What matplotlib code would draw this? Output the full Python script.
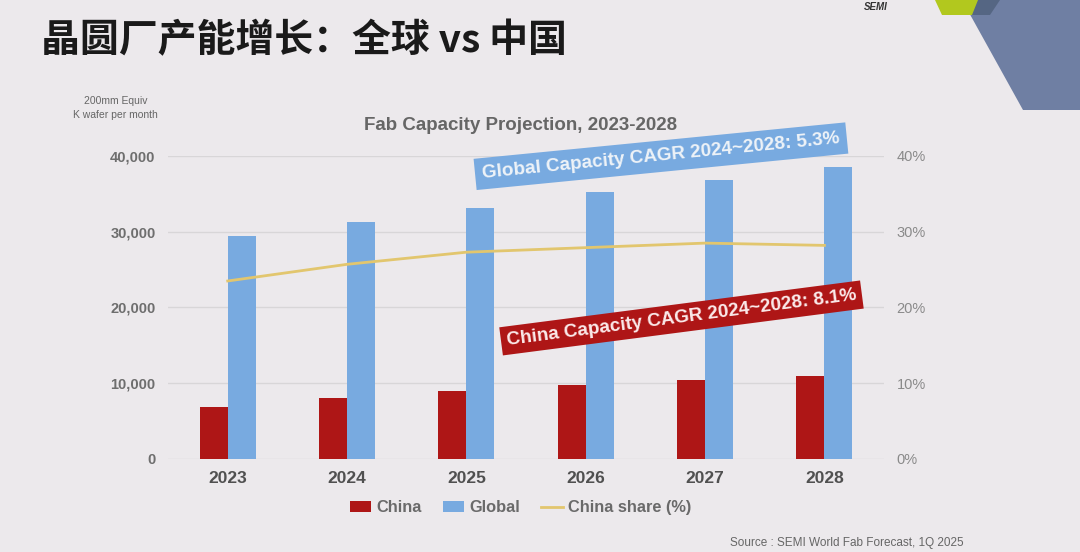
import matplotlib.pyplot as plt
from matplotlib.patches import Polygon
from matplotlib.lines import Line2D
from matplotlib.patches import Patch
from matplotlib.ticker import FuncFormatter
import numpy as np

# data
years = ["2023", "2024", "2025", "2026", "2027", "2028"]
china = [6900, 8000, 9000, 9800, 10400, 10900]
global_cap = [29500, 31300, 33200, 35300, 36800, 38500]
china_share = [23.5, 25.7, 27.3, 27.9, 28.5, 28.2]

BG = "#ECE9EC"
RED = "#AE1616"
BLUE = "#78AAE0"
GOLD = "#E2C66E"
LATIN = ["Liberation Sans", "DejaVu Sans"]

fig = plt.figure(figsize=(10.8, 5.52), dpi=100, facecolor=BG)

# slide title
fig.text(0.038, 0.927, "晶圆厂产能增长：全球 vs 中国", fontsize=28, fontweight="bold",
         color="#1a1a1a", va="center", ha="left",
         family=["Noto Sans CJK SC", "DejaVu Sans"])

# corner decoration in top right
W, H = 1080, 552
def px(pts):
    return [(x / W, 1 - y / H) for x, y in pts]
fig.patches.append(Polygon(px([(962, 0), (1080, 0), (1080, 110), (1023, 110)]),
                           closed=True, fc="#6F7FA3", ec="none", transform=fig.transFigure))
fig.patches.append(Polygon(px([(975, 0), (1000, 0), (990, 15), (970, 15)]),
                           closed=True, fc="#556683", ec="none", transform=fig.transFigure))
fig.patches.append(Polygon(px([(935, 0), (978, 0), (972, 15), (942, 15)]),
                           closed=True, fc="#B2C81E", ec="none", transform=fig.transFigure))
fig.text(0.800, 0.997, "SEMI", fontsize=7, fontweight="bold", color="#333333",
         va="top", ha="left", family=LATIN, style="italic")

ax = fig.add_axes([0.1556, 0.1685, 0.663, 0.5489])
ax.set_facecolor(BG)
x = np.arange(len(years))
w = 0.235
ax.bar(x - w / 2, china, w, color=RED, zorder=3)
ax.bar(x + w / 2, global_cap, w, color=BLUE, zorder=3)
ax.set_xlim(-0.5, len(years) - 0.5)
ax.set_ylim(0, 40000)
ax.set_yticks(range(0, 40001, 10000))
ax.yaxis.set_major_formatter(FuncFormatter(lambda v, p: f"{int(v):,}"))
ax.set_xticks(x)
ax.set_xticklabels(years)
ax.grid(axis="y", color="#D8D6D8", lw=1, zorder=0)
for s in ax.spines.values():
    s.set_visible(False)
ax.tick_params(axis="y", length=0, pad=9)
ax.tick_params(axis="x", length=0, pad=9)
for t in ax.get_yticklabels():
    t.set_fontsize(10.5)
    t.set_fontweight("bold")
    t.set_color("#6e6e6e")
    t.set_family(LATIN)
for t in ax.get_xticklabels():
    t.set_fontsize(12.5)
    t.set_fontweight("bold")
    t.set_color("#505050")
    t.set_family(LATIN)

ax2 = ax.twinx()
ax2.plot(x, china_share, color=GOLD, lw=2, zorder=4)
ax2.set_ylim(0, 40)
ax2.set_yticks(range(0, 41, 10))
ax2.yaxis.set_major_formatter(FuncFormatter(lambda v, p: f"{int(v)}%"))
for s in ax2.spines.values():
    s.set_visible(False)
ax2.tick_params(length=0, pad=9)
for t in ax2.get_yticklabels():
    t.set_fontsize(10.5)
    t.set_color("#8a8a8a")
    t.set_family(LATIN)

# chart title and unit label
fig.text(0.482, 0.772, "Fab Capacity Projection, 2023-2028", fontsize=13.5,
         fontweight="bold", color="#666666", ha="center", va="center", family=LATIN)
fig.text(0.107, 0.804, "200mm Equiv\nK wafer per month", fontsize=7.5,
         color="#666666", ha="center", va="center", family=LATIN, linespacing=1.5)

# CAGR callouts
fig.text(0.612, 0.717, "Global Capacity CAGR 2024~2028: 5.3%", fontsize=13.6,
         fontweight="bold", color="#EEF3F8", ha="center", va="center", rotation=5.6,
         rotation_mode="anchor", family=LATIN,
         bbox=dict(boxstyle="square,pad=0.38", fc=BLUE, ec="none"))
fig.text(0.631, 0.424, "China Capacity CAGR 2024~2028: 8.1%", fontsize=13.6,
         fontweight="bold", color="#FBEAEA", ha="center", va="center", rotation=7.4,
         rotation_mode="anchor", family=LATIN,
         bbox=dict(boxstyle="square,pad=0.3", fc=RED, ec="none"))

# legend
handles = [Patch(fc=RED, ec="none"), Patch(fc=BLUE, ec="none"),
           Line2D([], [], color=GOLD, lw=2)]
leg = fig.legend(handles, ["China", "Global", "China share (%)"], ncol=3,
                 loc="center", bbox_to_anchor=(0.482, 0.080), frameon=False,
                 handlelength=1.3, handleheight=0.6, handletextpad=0.3,
                 columnspacing=1.3, prop={"family": LATIN, "size": 11.8, "weight": "bold"})
for t in leg.get_texts():
    t.set_color("#6a6a6a")

fig.text(0.676, 0.016, "Source : SEMI World Fab Forecast, 1Q 2025", fontsize=8.5,
         color="#666666", ha="left", va="center", family=LATIN)

plt.savefig("out.png", dpi=100, facecolor=BG)
